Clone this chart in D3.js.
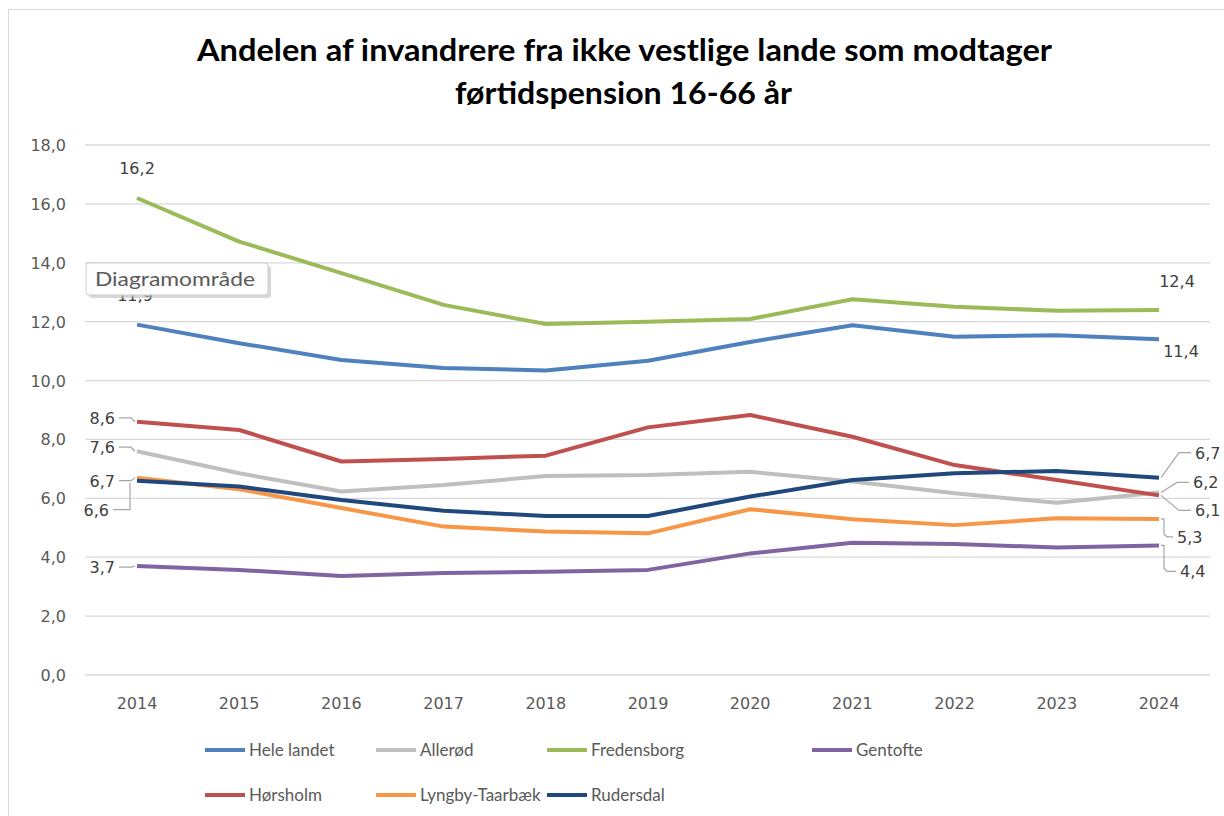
<!DOCTYPE html>
<head>
  <title>Førtidspension</title>
  <meta charset="utf-8">
  <script src="https://cdn.jsdelivr.net/npm/d3@7"></script>
  <style>
    body { margin: 0; background: #fff; }
    text { font-family: Lato, "Open Sans", sans-serif; }
    .grid line { stroke: #d9d9d9; stroke-width: 1.3; }
    .tick-label { fill: #595959; font-size: 16px; font-family: "DejaVu Sans", sans-serif; }
    .series { fill: none; stroke-width: 4; stroke-linejoin: round; stroke-linecap: butt; }
    .lbl { fill: #404040; font-size: 16px; font-family: "DejaVu Sans", sans-serif; }
    .leader { stroke: #a6a6a6; fill: none; stroke-width: 1.2; }
  </style>
</head>
<body>
<div class="container"></div>
<script>
'use strict';
var width = 1224;
var height = 816;

var years = [2014, 2015, 2016, 2017, 2018, 2019, 2020, 2021, 2022, 2023, 2024];
var yTicks = [0, 2, 4, 6, 8, 10, 12, 14, 16, 18];

var heleLandet   = [11.9, 11.27, 10.7, 10.43, 10.34, 10.67, 11.31, 11.88, 11.49, 11.54, 11.4];
var alleroed     = [7.6, 6.85, 6.23, 6.45, 6.76, 6.79, 6.9, 6.57, 6.17, 5.85, 6.2];
var fredensborg  = [16.2, 14.72, 13.65, 12.57, 11.92, 12.0, 12.09, 12.76, 12.51, 12.37, 12.4];
var gentofte     = [3.7, 3.57, 3.36, 3.46, 3.51, 3.57, 4.13, 4.49, 4.45, 4.33, 4.4];
var hoersholm    = [8.6, 8.32, 7.25, 7.34, 7.45, 8.41, 8.83, 8.09, 7.13, 6.62, 6.1];
var lyngby       = [6.7, 6.31, 5.67, 5.04, 4.87, 4.81, 5.63, 5.29, 5.09, 5.32, 5.3];
var rudersdal    = [6.6, 6.4, 5.94, 5.58, 5.4, 5.4, 6.06, 6.62, 6.85, 6.93, 6.7];

var seriesNames = ['Hele landet', 'Allerød', 'Fredensborg', 'Gentofte', 'Hørsholm', 'Lyngby-Taarbæk', 'Rudersdal'];
var seriesValues = [heleLandet, alleroed, fredensborg, gentofte, hoersholm, lyngby, rudersdal];
var seriesColors = ['#4f81bd', '#bfbfbf', '#9bbb59', '#8064a2', '#c0504d', '#f79646', '#1f497d'];

var svg = d3.select('.container')
  .append('svg')
  .attr('width', width)
  .attr('height', height);

// chart frame
svg.append('rect')
  .attr('x', 8.5).attr('y', 9.5)
  .attr('width', 1230).attr('height', 820)
  .attr('fill', '#fff').attr('stroke', '#d9d9d9');

svg.append('text')
  .attr('x', 197).attr('y', 61)
  .attr('textLength', 855).attr('lengthAdjust', 'spacingAndGlyphs')
  .style('font-size', '30px').style('font-weight', 'bold').style('fill', '#000')
  .text('Andelen af invandrere fra ikke vestlige lande som modtager');
svg.append('text')
  .attr('x', 455).attr('y', 104)
  .attr('textLength', 337).attr('lengthAdjust', 'spacingAndGlyphs')
  .style('font-size', '30px').style('font-weight', 'bold').style('fill', '#000')
  .text('førtidspension 16-66 år');

var x = d3.scalePoint().domain(years).range([137, 1159]);
var y = d3.scaleLinear().domain([0, 18]).range([675, 145]);
var fmt = function (v) { return d3.format('.1f')(v).replace('.', ','); };

var grid = svg.append('g').attr('class', 'grid');
grid.selectAll('line')
  .data(yTicks)
  .enter().append('line')
  .attr('x1', 85).attr('x2', 1210)
  .attr('y1', function (d) { return y(d); })
  .attr('y2', function (d) { return y(d); });

svg.selectAll('text.ytick')
  .data(yTicks)
  .enter().append('text')
  .attr('class', 'tick-label ytick')
  .attr('x', 66)
  .attr('y', function (d) { return y(d) + 6; })
  .attr('text-anchor', 'end')
  .text(fmt);

svg.selectAll('text.xtick')
  .data(years)
  .enter().append('text')
  .attr('class', 'tick-label xtick')
  .attr('x', function (d) { return x(d); })
  .attr('y', 709)
  .attr('text-anchor', 'middle')
  .text(function (d) { return d; });

var line = d3.line()
  .x(function (d, i) { return x(years[i]); })
  .y(function (d) { return y(d); });

svg.selectAll('path.series')
  .data(seriesValues)
  .enter().append('path')
  .attr('class', 'series')
  .attr('stroke', function (d, i) { return seriesColors[i]; })
  .attr('d', line);

// data labels: [series index, year index, dx, dy, anchor, leader type]
var last = years.length - 1;
var labels = [
  [2, 0, 0, -30, 'middle', null],
  [0, 0, -2, -30, 'middle', null],
  [4, 0, -22, -4, 'end', 'left'],
  [1, 0, -22, -4, 'end', 'left'],
  [5, 0, -22, 3, 'end', 'left'],
  [6, 0, -28, 29, 'end', 'leftDown'],
  [3, 0, -22, 1, 'end', 'left'],
  [2, last, 18, -29, 'middle', null],
  [0, last, 22, 12, 'middle', null],
  [6, last, 36, -25, 'start', 'diag'],
  [1, last, 34, -10, 'start', 'diag'],
  [4, last, 36, 15, 'start', 'diag'],
  [5, last, 18, 18, 'start', 'step'],
  [3, last, 21, 26, 'start', 'step']
];

labels.forEach(function (l) {
  var v = seriesValues[l[0]][l[1]];
  var px = x(years[l[1]]), py = y(v);
  var tx = px + l[2], ty = py + l[3];
  var path = null;
  if (l[5] === 'left') {
    path = 'M' + (tx + 4) + ',' + ty + 'H' + (px - 6) + 'L' + (px - 2) + ',' + py;
  } else if (l[5] === 'leftDown') {
    path = 'M' + (tx + 4) + ',' + ty + 'H' + (px - 7) + 'V' + (py + 2);
  } else if (l[5] === 'diag') {
    path = 'M' + (px + 2) + ',' + py + 'L' + (tx - 16) + ',' + ty + 'H' + (tx - 4);
  } else if (l[5] === 'step') {
    path = 'M' + (px + 2) + ',' + py + 'H' + (px + 5) + 'V' + (ty - 3) + 'l3,3' + 'H' + (tx - 4);
  }
  if (path) svg.append('path').attr('class', 'leader').attr('d', path);
  svg.append('text')
    .attr('class', 'lbl')
    .attr('x', tx).attr('y', ty + 6)
    .attr('text-anchor', l[4])
    .text(fmt(v));
});

// "Diagramområde" hover tip from the original screenshot
var tip = svg.append('g').attr('transform', 'translate(86,263)');
tip.append('rect').attr('x', 3).attr('y', 3).attr('width', 182).attr('height', 32)
  .attr('rx', 3).attr('fill', '#bdbdbd').attr('opacity', 0.6);
tip.append('rect').attr('width', 182).attr('height', 32).attr('rx', 3)
  .attr('fill', '#fdfdfd').attr('stroke', '#cfcfcf');
tip.append('text').attr('x', 9).attr('y', 23)
  .attr('textLength', 160).attr('lengthAdjust', 'spacingAndGlyphs')
  .style('font-size', '20px').style('fill', '#5a5a5a')
  .text('Diagramområde');

// legend
var legendPos = [[205, 750], [376, 750], [547, 750], [812, 750], [205, 795], [376, 795], [547, 795]];
var legend = svg.selectAll('g.legend')
  .data(seriesNames)
  .enter().append('g')
  .attr('class', 'legend')
  .attr('transform', function (d, i) { return 'translate(' + legendPos[i][0] + ',' + legendPos[i][1] + ')'; });
legend.append('line')
  .attr('x1', 0).attr('x2', 40)
  .attr('stroke-width', 4)
  .attr('stroke', function (d, i) { return seriesColors[i]; });
legend.append('text')
  .attr('x', 44).attr('y', 6)
  .style('font-size', '17px').style('fill', '#595959')
  .text(function (d) { return d; });
</script>
</body>
